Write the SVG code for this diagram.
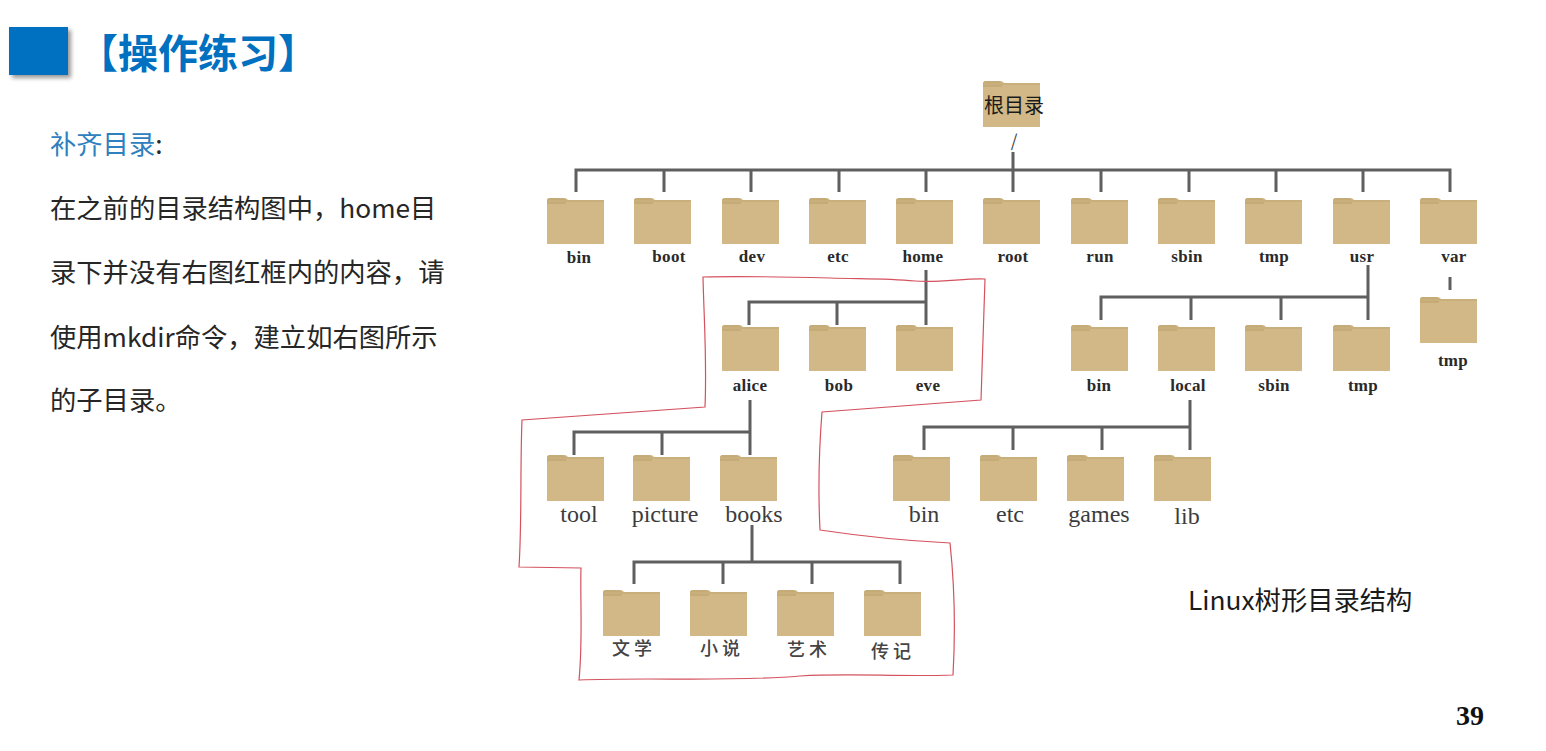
<svg xmlns="http://www.w3.org/2000/svg" width="1546" height="751" viewBox="0 0 1546 751">
<style>
.sans{font-family:"Noto Sans CJK SC","Noto Sans",sans-serif}
.body{font-size:26.3px;fill:#262626}
.blue{fill:#2E80BE}
.lb{font-family:"Liberation Serif",serif;font-weight:bold;font-size:17px;fill:#2a2a2a;text-anchor:middle;letter-spacing:.3px}
.lr{font-family:"Liberation Serif",serif;font-size:24px;fill:#3c3c3c;text-anchor:middle}
.lc{font-family:"Noto Sans CJK SC",sans-serif;font-size:18px;font-weight:500;fill:#444;text-anchor:middle;letter-spacing:4px}
.conn path{fill:none;stroke:#5f5f5f;stroke-width:3}
</style>
<defs>
<filter id="sh" x="-20%" y="-20%" width="150%" height="150%"><feGaussianBlur stdDeviation="2"/></filter>
<g id="folder">
<path d="M0 3Q0 0 3 0H17Q20 0 21 2H57V46H0Z" fill="#D1B886"/>
<path d="M0 3Q0 0 3 0H15Q18 0 19 2V6H0Z" fill="#C4AB78"/>
<rect x="0" y="2" width="57" height="2" fill="#C8AF7C"/>
</g>
</defs>
<rect width="1546" height="751" fill="#fff"/>

<g id="title">
<rect x="12" y="30" width="59" height="48" fill="#555" opacity=".6" filter="url(#sh)"/>
<rect x="9" y="27" width="59" height="48" fill="#0070C0"/>
<text x="78" y="68" class="sans" font-size="40" font-weight="700" fill="#0070C0">【操作练习】</text>
</g>

<g id="description" class="sans body">
<text x="50" y="154"><tspan class="blue">补齐目录</tspan>:</text>
<text x="50" y="218">在之前的目录结构图中，home目</text>
<text x="50" y="282">录下并没有右图红框内的内容，请</text>
<text x="50" y="347">使用mkdir命令，建立如右图所示</text>
<text x="50" y="410">的子目录。</text>
</g>

<g id="connectors" class="conn">
<path d="M576 192V170H1450V192M664 170V192M751 170V192M839 170V192M926 170V192M1013 152V192M1101 170V192M1189 170V192M1276 170V192M1363 170V192"/>
<path d="M926 270V325M749 325V302H926M837 302V325"/>
<path d="M1368 265V320M1101 320V297H1368M1191 297V320M1281 297V320"/>
<path d="M1450 277V290"/>
<path d="M750 400V455M574 455V432H750M662 432V455"/>
<path d="M752 525V562M634 584V562H900V584M723 562V584M812 562V584"/>
<path d="M1190 400V450M924 450V427H1190M1013 427V450M1102 427V450"/>
</g>

<path id="red-outline" fill="none" stroke="#D4525E" stroke-width="1.2" d="M703 277C740 276 790 277 830 278C860 279 885 278 915 281C940 283 965 278 985 279L981 400L822 412C819 450 818 490 820 530C860 536 910 541 950 543C955 590 955 640 953 675C900 677 850 673 800 676C730 682 650 677 579 680C583 640 580 600 581 568L519 567C522 520 520 470 522 420C580 416 640 412 705 407C707 360 704 320 703 277Z"/>

<g id="n-root"><use href="#folder" x="983" y="81"/><text x="1014" y="113" class="sans" font-size="20" fill="#1a1a1a" text-anchor="middle">根目录</text><text x="1014" y="147" class="sans" font-size="17" fill="#444" text-anchor="middle">/</text></g>

<g id="n-bin"><use href="#folder" x="547" y="198"/><text x="579" y="263" class="lb">bin</text></g>
<g id="n-boot"><use href="#folder" x="634" y="198"/><text x="669" y="262" class="lb">boot</text></g>
<g id="n-dev"><use href="#folder" x="722" y="198"/><text x="752" y="262" class="lb">dev</text></g>
<g id="n-etc"><use href="#folder" x="809" y="198"/><text x="838" y="262" class="lb">etc</text></g>
<g id="n-home"><use href="#folder" x="896" y="198"/><text x="923" y="262" class="lb">home</text></g>
<g id="n-rootdir"><use href="#folder" x="983" y="198"/><text x="1013" y="262" class="lb">root</text></g>
<g id="n-run"><use href="#folder" x="1071" y="198"/><text x="1100" y="262" class="lb">run</text></g>
<g id="n-sbin"><use href="#folder" x="1158" y="198"/><text x="1187" y="262" class="lb">sbin</text></g>
<g id="n-tmp"><use href="#folder" x="1245" y="198"/><text x="1274" y="262" class="lb">tmp</text></g>
<g id="n-usr"><use href="#folder" x="1333" y="198"/><text x="1362" y="262" class="lb">usr</text></g>
<g id="n-var"><use href="#folder" x="1420" y="198"/><text x="1454" y="262" class="lb">var</text></g>

<g id="n-alice"><use href="#folder" x="722" y="325"/><text x="750" y="391" class="lb">alice</text></g>
<g id="n-bob"><use href="#folder" x="809" y="325"/><text x="839" y="391" class="lb">bob</text></g>
<g id="n-eve"><use href="#folder" x="896" y="325"/><text x="928" y="391" class="lb">eve</text></g>
<g id="n-usr-bin"><use href="#folder" x="1071" y="325"/><text x="1099" y="391" class="lb">bin</text></g>
<g id="n-usr-local"><use href="#folder" x="1158" y="325"/><text x="1188" y="391" class="lb">local</text></g>
<g id="n-usr-sbin"><use href="#folder" x="1245" y="325"/><text x="1274" y="391" class="lb">sbin</text></g>
<g id="n-usr-tmp"><use href="#folder" x="1333" y="325"/><text x="1363" y="391" class="lb">tmp</text></g>
<g id="n-var-tmp"><use href="#folder" x="1420" y="297"/><text x="1453" y="366" class="lb">tmp</text></g>

<g id="n-tool"><use href="#folder" x="547" y="455"/><text x="579" y="522" class="lr">tool</text></g>
<g id="n-picture"><use href="#folder" x="633" y="455"/><text x="665" y="522" class="lr">picture</text></g>
<g id="n-books"><use href="#folder" x="720" y="455"/><text x="754" y="522" class="lr">books</text></g>
<g id="n-l-bin"><use href="#folder" x="893" y="455"/><text x="924" y="522" class="lr">bin</text></g>
<g id="n-l-etc"><use href="#folder" x="980" y="455"/><text x="1010" y="522" class="lr">etc</text></g>
<g id="n-l-games"><use href="#folder" x="1067" y="455"/><text x="1099" y="522" class="lr">games</text></g>
<g id="n-l-lib"><use href="#folder" x="1154" y="455"/><text x="1187" y="524" class="lr">lib</text></g>

<g id="n-wenxue"><use href="#folder" x="603" y="590"/><text x="634" y="655" class="lc">文学</text></g>
<g id="n-xiaoshuo"><use href="#folder" x="690" y="590"/><text x="722" y="655" class="lc">小说</text></g>
<g id="n-yishu"><use href="#folder" x="777" y="590"/><text x="809" y="656" class="lc">艺术</text></g>
<g id="n-zhuanji"><use href="#folder" x="864" y="590"/><text x="893" y="658" class="lc">传记</text></g>

<text id="caption" x="1188" y="610" class="sans" font-size="26.3" fill="#1a1a1a">Linux树形目录结构</text>
<text id="page" x="1470" y="725" font-family="Liberation Serif,serif" font-weight="bold" font-size="28" fill="#111" text-anchor="middle">39</text>
</svg>
